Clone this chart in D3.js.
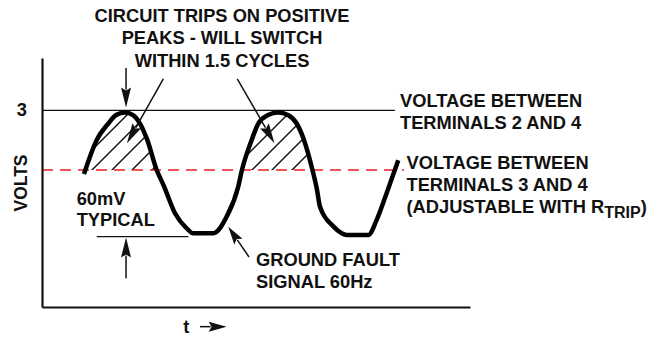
<!DOCTYPE html>
<html>
<head>
<meta charset="utf-8">
<script src="https://cdn.jsdelivr.net/npm/d3@7"></script>
<style>
  html, body { margin: 0; padding: 0; background: #fff; }
  svg { display: block; }
  text { font-family: "Liberation Sans", Arial, Helvetica, sans-serif; font-weight: bold; fill: #111; }
</style>
</head>
<body>
<svg id="chart" width="670" height="337"></svg>
<script>
// Ground fault signal (60 Hz) sampled along the time axis: time in ms, level in volts
const waveT = [4.57, 5.96, 7.22, 8.06, 9.04, 9.91, 10.67, 11.46, 12.49, 13.23, 14.48, 15.75, 16.47, 18.65,
               20.11, 21.37, 21.77, 22.83, 23.55, 24.60, 25.73, 26.78, 27.73, 28.52, 29.45, 29.94, 30.27,
               31.72, 32.63, 33.17, 35.53, 36.44, 37.53, 38.79];
const waveV = [2.03, 2.55, 2.80, 2.93, 2.97, 2.93, 2.80, 2.55, 2.09, 1.86, 1.43, 1.20, 1.125, 1.125,
               1.38, 1.84, 2.09, 2.55, 2.80, 2.93, 2.97, 2.93, 2.80, 2.55, 2.09, 1.79, 1.53,
               1.23, 1.125, 1.10, 1.10, 1.33, 1.74, 2.24];

// Reference levels (volts)
const yTickValues = [3];
const terminals24Level = 3;      // voltage between terminals 2 and 4
const terminals34Level = 2.09;   // voltage between terminals 3 and 4 (trip threshold)
const troughLevel = 1.073;       // bottom of the signal, used by the 60mV dimension

// Axis extents
const tDomain = [0, 46.6];
const vDomain = [0, 3.8];

const svg = d3.select("#chart");
const x = d3.scaleLinear().domain(tDomain).range([42, 470]);
const y = d3.scaleLinear().domain(vDomain).range([307, 58]);

const wave = waveT.map((t, i) => ({ t, v: waveV[i] }));

// ---- shaded region where the signal rises above the trip threshold ----
const defs = svg.append("defs");
defs.append("clipPath").attr("id", "aboveThreshold")
  .append("rect")
  .attr("x", x(0)).attr("y", y(vDomain[1]))
  .attr("width", x(tDomain[1]) - x(0))
  .attr("height", y(terminals34Level) - y(vDomain[1]));

const area = d3.area()
  .x(d => x(d.t))
  .y0(y(terminals34Level))
  .y1(d => y(d.v))
  .curve(d3.curveMonotoneX);

defs.append("clipPath").attr("id", "underWave")
  .append("path").attr("d", area(wave));

const hatch = svg.append("g").attr("clip-path", "url(#aboveThreshold)")
  .append("g").attr("clip-path", "url(#underWave)");

// diagonal hatch lines (x + y = const in screen space)
const hatchStep = 20, hatchOrigin = 262;
d3.range(-10, 40).forEach(k => {
  const c = hatchOrigin + k * hatchStep;
  hatch.append("line")
    .attr("x1", c - 330).attr("y1", 330)
    .attr("x2", c - 40).attr("y2", 40)
    .attr("stroke", "#111").attr("stroke-width", 1.4);
});

// ---- reference lines ----
svg.append("line")
  .attr("x1", x(0)).attr("x2", x(38.43))
  .attr("y1", y(terminals24Level)).attr("y2", y(terminals24Level))
  .attr("stroke", "#111").attr("stroke-width", 1.3);

svg.append("line")
  .attr("x1", x(0)).attr("x2", x(39.41))
  .attr("y1", y(terminals34Level)).attr("y2", y(terminals34Level))
  .attr("stroke", "#ec1c24").attr("stroke-width", 1.6)
  .attr("stroke-dasharray", "11,7");

// ---- axes ----
const yAxis = d3.axisLeft(y).tickValues(yTickValues).tickFormat(d3.format("d"))
  .tickSize(0).tickSizeOuter(0).tickPadding(15);
const gy = svg.append("g").attr("transform", `translate(${x(0)},0)`).call(yAxis);
gy.select(".domain").attr("stroke", "#111").attr("stroke-width", 2.2);
gy.selectAll(".tick text")
  .attr("font-family", "Liberation Sans, Arial, sans-serif")
  .attr("font-weight", "bold").attr("font-size", 18.3).attr("fill", "#111").attr("dy", "0.26em");

const xAxis = d3.axisBottom(x).tickValues([]).tickSizeOuter(0);
const gx = svg.append("g").attr("transform", `translate(0,${y(0)})`).call(xAxis);
gx.select(".domain").attr("stroke", "#111").attr("stroke-width", 2.2);

// ---- the signal ----
const line = d3.line().x(d => x(d.t)).y(d => y(d.v)).curve(d3.curveMonotoneX);
svg.append("path").attr("d", line(wave))
  .attr("fill", "none").attr("stroke", "#000")
  .attr("stroke-width", 4.5).attr("stroke-linejoin", "round").attr("stroke-linecap", "butt");

// ---- annotation arrows ----
function arrow(x1, y1, x2, y2, headLen = 20, headHalf = 5) {
  const ang = Math.atan2(y2 - y1, x2 - x1);
  const ux = Math.cos(ang), uy = Math.sin(ang);
  const bx = x2 - ux * headLen, by = y2 - uy * headLen;
  svg.append("line")
    .attr("x1", x1).attr("y1", y1).attr("x2", bx + ux * 2).attr("y2", by + uy * 2)
    .attr("stroke", "#111").attr("stroke-width", 1.5);
  svg.append("path")
    .attr("d", `M${x2},${y2} L${bx - uy * headHalf},${by + ux * headHalf} L${bx + ux * 3},${by + uy * 3} L${bx + uy * headHalf},${by - ux * headHalf} Z`)
    .attr("fill", "#111");
}

arrow(x(9.15), y(3.647), x(9.15), y(3.045));          // down onto the first peak
arrow(x(13.21), y(3.48), x(9.25), y(2.50));            // into first shaded peak
arrow(x(21.26), y(3.48), x(25.31), y(2.50));           // into second shaded peak
arrow(x(9.15), y(0.438), x(9.15), y(1.06));            // up to the trough level
arrow(x(22.54), y(0.763), x(20.28), y(1.225), 18, 5);  // onto the signal
arrow(x(17.2), y(-0.30), x(20.1), y(-0.30), 18, 5);    // time direction

// trough-level dimension line
svg.append("line")
  .attr("x1", x(5.96)).attr("x2", x(15.93))
  .attr("y1", y(troughLevel)).attr("y2", y(troughLevel))
  .attr("stroke", "#111").attr("stroke-width", 1.3);

// ---- labels ----
const fs = 18.3;
function label(lines, xPos, baselines, anchor = "start") {
  lines.forEach((s, i) => {
    svg.append("text").attr("x", xPos).attr("y", baselines[i])
      .attr("font-size", fs).attr("text-anchor", anchor).text(s);
  });
}

label(["CIRCUIT TRIPS ON POSITIVE", "PEAKS - WILL SWITCH", "WITHIN 1.5 CYCLES"], 222, [21.5, 44, 66.5], "middle");
label(["VOLTAGE BETWEEN", "TERMINALS 2 AND 4"], 400, [106.5, 128.5]);
label(["VOLTAGE BETWEEN", "TERMINALS 3 AND 4"], 406.5, [168.5, 191]);

const adj = svg.append("text").attr("x", 406.5).attr("y", 213).attr("font-size", fs);
adj.append("tspan").text("(ADJUSTABLE WITH R");
adj.append("tspan").attr("font-size", 16).attr("dy", 5).text("TRIP");
adj.append("tspan").attr("dy", -5).text(")");

label(["60mV", "TYPICAL"], 76.7, [204.5, 226]);
label(["GROUND FAULT", "SIGNAL 60Hz"], 256, [266, 288]);

svg.append("text").attr("transform", "translate(26.5,183) rotate(-90)")
  .attr("text-anchor", "middle").attr("font-size", 17.5).text("VOLTS");

svg.append("text").attr("x", 183.3).attr("y", 333).attr("font-size", fs).text("t");
</script>
</body>
</html>
